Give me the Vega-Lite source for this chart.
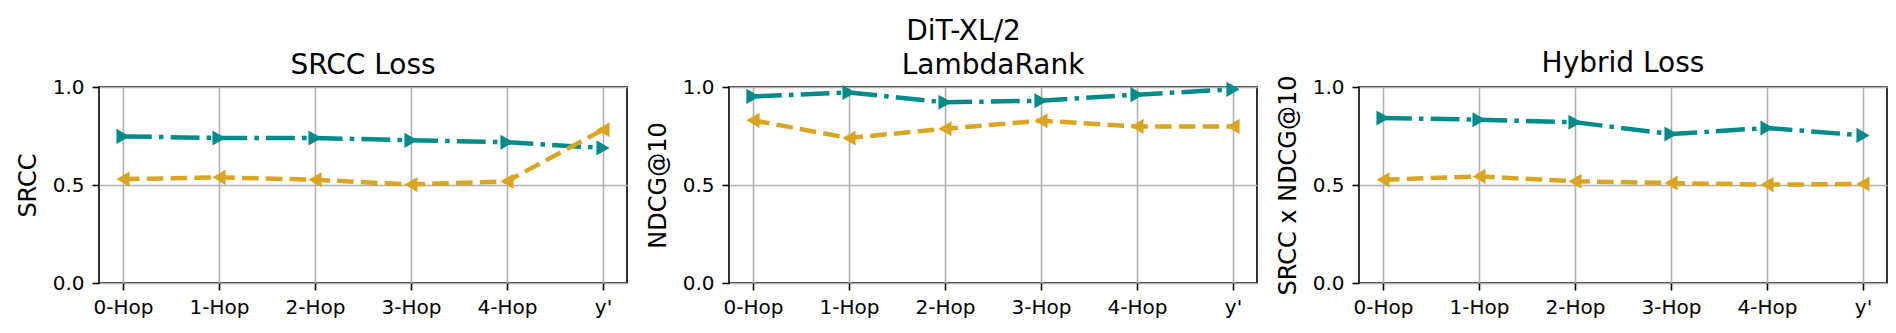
{
  "$schema": "https://vega.github.io/schema/vega-lite/v6.json",
  "padding": {"left": 15, "top": 18, "right": 0, "bottom": 0},
  "background": "white",
  "title": {"text": "DiT-XL/2", "fontSize": 28, "font": "DejaVu Sans", "fontWeight": "normal", "color": "black", "anchor": "middle", "baseline": "alphabetic", "offset": -19, "dx": 12},
  "datasets": {
    "scores": [
      {"panel": "SRCC Loss", "hop": "0-Hop", "method": "A", "value": 0.748},
      {"panel": "SRCC Loss", "hop": "1-Hop", "method": "A", "value": 0.740},
      {"panel": "SRCC Loss", "hop": "2-Hop", "method": "A", "value": 0.740},
      {"panel": "SRCC Loss", "hop": "3-Hop", "method": "A", "value": 0.728},
      {"panel": "SRCC Loss", "hop": "4-Hop", "method": "A", "value": 0.718},
      {"panel": "SRCC Loss", "hop": "y'", "method": "A", "value": 0.689},
      {"panel": "SRCC Loss", "hop": "0-Hop", "method": "B", "value": 0.530},
      {"panel": "SRCC Loss", "hop": "1-Hop", "method": "B", "value": 0.539},
      {"panel": "SRCC Loss", "hop": "2-Hop", "method": "B", "value": 0.527},
      {"panel": "SRCC Loss", "hop": "3-Hop", "method": "B", "value": 0.502},
      {"panel": "SRCC Loss", "hop": "4-Hop", "method": "B", "value": 0.519},
      {"panel": "SRCC Loss", "hop": "y'", "method": "B", "value": 0.782},
      {"panel": "LambdaRank", "hop": "0-Hop", "method": "A", "value": 0.952},
      {"panel": "LambdaRank", "hop": "1-Hop", "method": "A", "value": 0.972},
      {"panel": "LambdaRank", "hop": "2-Hop", "method": "A", "value": 0.922},
      {"panel": "LambdaRank", "hop": "3-Hop", "method": "A", "value": 0.930},
      {"panel": "LambdaRank", "hop": "4-Hop", "method": "A", "value": 0.961},
      {"panel": "LambdaRank", "hop": "y'", "method": "A", "value": 0.988},
      {"panel": "LambdaRank", "hop": "0-Hop", "method": "B", "value": 0.830},
      {"panel": "LambdaRank", "hop": "1-Hop", "method": "B", "value": 0.740},
      {"panel": "LambdaRank", "hop": "2-Hop", "method": "B", "value": 0.787},
      {"panel": "LambdaRank", "hop": "3-Hop", "method": "B", "value": 0.828},
      {"panel": "LambdaRank", "hop": "4-Hop", "method": "B", "value": 0.799},
      {"panel": "LambdaRank", "hop": "y'", "method": "B", "value": 0.799},
      {"panel": "Hybrid Loss", "hop": "0-Hop", "method": "A", "value": 0.842},
      {"panel": "Hybrid Loss", "hop": "1-Hop", "method": "A", "value": 0.833},
      {"panel": "Hybrid Loss", "hop": "2-Hop", "method": "A", "value": 0.820},
      {"panel": "Hybrid Loss", "hop": "3-Hop", "method": "A", "value": 0.760},
      {"panel": "Hybrid Loss", "hop": "4-Hop", "method": "A", "value": 0.791},
      {"panel": "Hybrid Loss", "hop": "y'", "method": "A", "value": 0.753},
      {"panel": "Hybrid Loss", "hop": "0-Hop", "method": "B", "value": 0.527},
      {"panel": "Hybrid Loss", "hop": "1-Hop", "method": "B", "value": 0.544},
      {"panel": "Hybrid Loss", "hop": "2-Hop", "method": "B", "value": 0.519},
      {"panel": "Hybrid Loss", "hop": "3-Hop", "method": "B", "value": 0.510},
      {"panel": "Hybrid Loss", "hop": "4-Hop", "method": "B", "value": 0.502},
      {"panel": "Hybrid Loss", "hop": "y'", "method": "B", "value": 0.505}
    ]
  },
  "config": {
    "font": "DejaVu Sans",
    "view": {"stroke": "black", "strokeWidth": 1.6},
    "axis": {
      "labelFont": "DejaVu Sans", "labelFontSize": 20, "labelColor": "black",
      "titleFont": "DejaVu Sans", "titleFontSize": 24, "titleFontWeight": "normal", "titleColor": "black",
      "domain": false, "tickColor": "black", "tickWidth": 1.6, "tickSize": 7,
      "gridColor": "#b0b0b0", "gridWidth": 1.6, "gridOpacity": 1
    },
    "axisX": {"labelPadding": 7},
    "axisY": {"labelPadding": 8},
    "title": {"font": "DejaVu Sans", "fontSize": 28, "fontWeight": "normal", "color": "black"},
    "concat": {"spacing": 102}
  },
  "bounds": "flush",
  "hconcat": [
    {
      "width": 528, "height": 196,
      "title": {"text": "SRCC Loss", "frame": "group", "anchor": "middle", "baseline": "alphabetic", "offset": -25},
      "data": {"name": "scores"},
      "transform": [{"filter": "datum.panel === 'SRCC Loss'"}],
      "encoding": {
        "x": {"field": "hop", "type": "ordinal", "sort": null, "scale": {"type": "point", "padding": 0.25}, "axis": {"title": null, "labelAngle": 0, "grid": true}},
        "y": {"field": "value", "type": "quantitative", "scale": {"domain": [0, 1]}, "axis": {"title": "SRCC", "values": [0, 0.5, 1], "format": ".1f", "grid": true, "titlePadding": 12}},
        "color": {"field": "method", "type": "nominal", "scale": {"domain": ["A", "B"], "range": ["#008b8b", "#daa520"]}, "legend": null}
      },
      "layer": [
        {"mark": {"type": "line", "strokeWidth": 4.5}, "encoding": {"strokeDash": {"field": "method", "type": "nominal", "scale": {"domain": ["A", "B"], "range": [[28.8, 7.2, 4.5, 7.2], [16.6, 7.2]]}, "legend": null}}},
        {"mark": {"type": "point", "filled": true, "opacity": 1, "size": 230}, "encoding": {"shape": {"field": "method", "type": "nominal", "scale": {"domain": ["A", "B"], "range": ["triangle-right", "triangle-left"]}, "legend": null}}}
      ]
    },
    {
      "width": 528, "height": 196,
      "title": {"text": "LambdaRank", "frame": "group", "anchor": "middle", "baseline": "alphabetic", "offset": -25},
      "data": {"name": "scores"},
      "transform": [{"filter": "datum.panel === 'LambdaRank'"}],
      "encoding": {
        "x": {"field": "hop", "type": "ordinal", "sort": null, "scale": {"type": "point", "padding": 0.25}, "axis": {"title": null, "labelAngle": 0, "grid": true}},
        "y": {"field": "value", "type": "quantitative", "scale": {"domain": [0, 1]}, "axis": {"title": "NDCG@10", "values": [0, 0.5, 1], "format": ".1f", "grid": true, "titlePadding": 12}},
        "color": {"field": "method", "type": "nominal", "scale": {"domain": ["A", "B"], "range": ["#008b8b", "#daa520"]}, "legend": null}
      },
      "layer": [
        {"mark": {"type": "line", "strokeWidth": 4.5}, "encoding": {"strokeDash": {"field": "method", "type": "nominal", "scale": {"domain": ["A", "B"], "range": [[28.8, 7.2, 4.5, 7.2], [16.6, 7.2]]}, "legend": null}}},
        {"mark": {"type": "point", "filled": true, "opacity": 1, "size": 230}, "encoding": {"shape": {"field": "method", "type": "nominal", "scale": {"domain": ["A", "B"], "range": ["triangle-right", "triangle-left"]}, "legend": null}}}
      ]
    },
    {
      "width": 528, "height": 196,
      "title": {"text": "Hybrid Loss", "frame": "group", "anchor": "middle", "baseline": "alphabetic", "offset": -25},
      "data": {"name": "scores"},
      "transform": [{"filter": "datum.panel === 'Hybrid Loss'"}],
      "encoding": {
        "x": {"field": "hop", "type": "ordinal", "sort": null, "scale": {"type": "point", "padding": 0.25}, "axis": {"title": null, "labelAngle": 0, "grid": true}},
        "y": {"field": "value", "type": "quantitative", "scale": {"domain": [0, 1]}, "axis": {"title": "SRCC x NDCG@10", "values": [0, 0.5, 1], "format": ".1f", "grid": true, "titlePadding": 12}},
        "color": {"field": "method", "type": "nominal", "scale": {"domain": ["A", "B"], "range": ["#008b8b", "#daa520"]}, "legend": null}
      },
      "layer": [
        {"mark": {"type": "line", "strokeWidth": 4.5}, "encoding": {"strokeDash": {"field": "method", "type": "nominal", "scale": {"domain": ["A", "B"], "range": [[28.8, 7.2, 4.5, 7.2], [16.6, 7.2]]}, "legend": null}}},
        {"mark": {"type": "point", "filled": true, "opacity": 1, "size": 230}, "encoding": {"shape": {"field": "method", "type": "nominal", "scale": {"domain": ["A", "B"], "range": ["triangle-right", "triangle-left"]}, "legend": null}}}
      ]
    }
  ]
}
